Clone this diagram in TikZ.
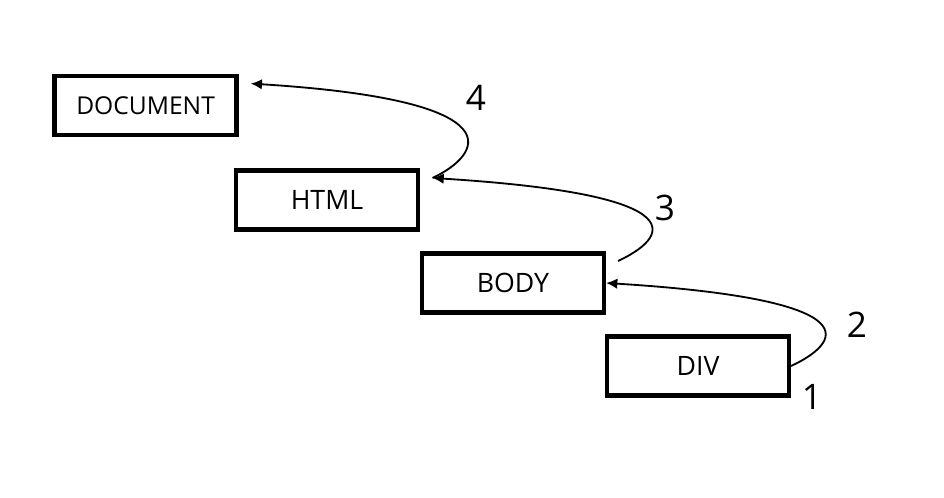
\documentclass[tikz,border=0pt]{standalone}
\usepackage{fontspec}
\setmainfont{Open Sans}
\usetikzlibrary{arrows.meta}

\begin{document}
\begin{tikzpicture}[
    box/.style={draw, line width=3pt, minimum width=4.55cm, minimum height=1.475cm,
                font=\fontsize{19}{23}\selectfont},
    num/.style={font=\fontsize{25}{30}\selectfont},
    link/.style={-{Latex[length=8pt, width=7.5pt]}, line width=1.3pt}]
      \useasboundingbox (0,0) rectangle (23.6,12.45);

      % the four boxes, each one step down and to the right
      \node[box, font=\fontsize{17.5}{21}\selectfont] (DOC) at (3.64, 9.81) {DOCUMENT};
      \node[box] (HTML) at (8.175, 7.45)  {HTML};
      \node[box] (BODY) at (12.825, 5.375) {BODY};
      \node[box] (DIV)  at (17.45, 3.3)   {DIV};

      % ends of the upper arrows, just off the top right corners
      \coordinate (BODYout) at ([shift={(0.3,-0.24)}]BODY.north east);
      \coordinate (HTMLin)  at ([shift={(0.31,-0.24)}]HTML.north east);
      \coordinate (HTMLout) at ([shift={(0.31,-0.24)}]HTML.north east);
      \coordinate (DOCin)   at ([shift={(0.3,-0.24)}]DOC.north east);

      % bubbling arrows
      \draw[link] (DIV.east) .. controls +(1.175,0.55) and +(6.825,-0.425) .. (BODY.east);
      \draw[link] (BODYout) .. controls +(1.175,0.55) and +(6.825,-0.425) .. (HTMLin);
      \draw[link] (HTMLout) .. controls +(1.175,0.55) and +(6.825,-0.425) .. (DOCin);

      % step numbers
      \node[num] (n1) at (20.3, 2.525)   {1};
      \node[num] (n2) at (21.425, 4.325) {2};
      \node[num] (n3) at (16.625, 7.25)  {3};
      \node[num] (n4) at (11.9, 10.0)    {4};
    \end{tikzpicture}
\end{document}
